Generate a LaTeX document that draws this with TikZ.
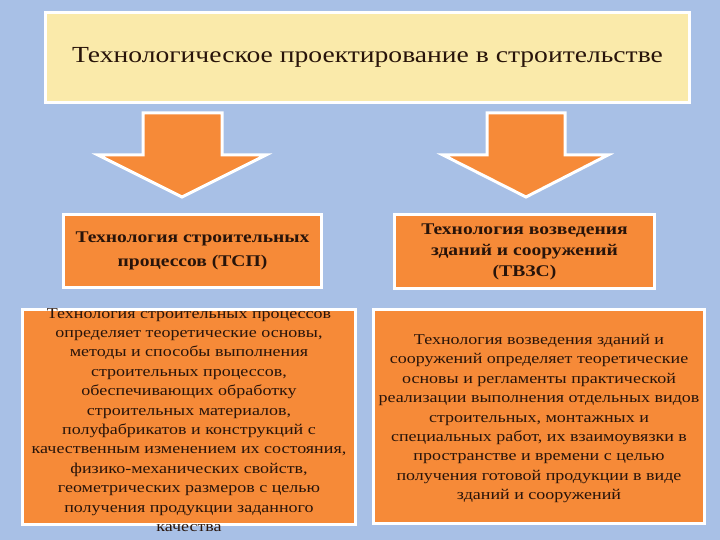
\documentclass[tikz,border=0pt]{standalone}
\usepackage{fontspec}
\setmainfont{Liberation Serif}[FakeStretch=1.2]
\definecolor{bgblue}{RGB}{168,192,230}
\definecolor{boxorange}{RGB}{246,138,56}
\definecolor{boxyellow}{RGB}{250,234,170}
\definecolor{txt}{RGB}{40,20,10}
\tikzset{
  panel/.style={draw=white, line width=3pt, anchor=north west, inner sep=0pt},
  bigarrow/.style={fill=boxorange, draw=white, line width=3pt, line join=miter},
  titletext/.style={text=txt, align=center, font=\fontsize{16.3}{21}\selectfont\bfseries},
  desctext/.style={text=txt, align=center, font=\fontsize{15}{19.4}\selectfont},
}
\begin{document}
\begin{tikzpicture}[x=1pt,y=-1pt]
\fill[bgblue] (0,0) rectangle (720,540);
\useasboundingbox (0,0) rectangle (720,540);

% top box
\node[panel, fill=boxyellow, minimum width=644pt, minimum height=90pt] (top) at (44,11) {};
\node[text=txt, font=\fontsize{23}{26}\selectfont] (toptext) at (top.center) {Технологическое проектирование в строительстве};

% arrows
\draw[bigarrow] (143,113) -- (222,113) -- (222,155) -- (266,155) -- (182,197) -- (98,155) -- (143,155) -- cycle;
\draw[bigarrow] (487,113) -- (565,113) -- (565,155) -- (608,155) -- (526,197) -- (443,155) -- (487,155) -- cycle;

% left title
\node[panel, fill=boxorange, minimum width=258pt, minimum height=73pt] (tsp) at (62,213) {};
\node[titletext, font=\fontsize{16.3}{24}\selectfont\bfseries] (tsptext) at (tsp.center) {Технология строительных\\процессов (ТСП)};

% right title
\node[panel, fill=boxorange, minimum width=260pt, minimum height=74pt] (tvzs) at (393,213) {};
\node[titletext] (tvzstext) at (tvzs.center) {Технология возведения\\зданий и сооружений\\(ТВЗС)};

% left description
\node[panel, fill=boxorange, minimum width=333pt, minimum height=215pt] (ld) at (21,308) {};
\node[desctext] (ldtext) at ([yshift=-3pt]ld.center) {Технология строительных процессов\\определяет теоретические основы,\\методы и способы выполнения\\строительных процессов,\\обеспечивающих  обработку\\строительных материалов,\\полуфабрикатов и конструкций с\\качественным изменением их состояния,\\физико-механических свойств,\\геометрических размеров с целью\\получения продукции заданного\\качества};

% right description
\node[panel, fill=boxorange, minimum width=331pt, minimum height=214pt] (rd) at (372,308) {};
\node[desctext] (rdtext) at ([yshift=-2pt]rd.center) {Технология возведения зданий и\\сооружений определяет теоретические\\основы и регламенты практической\\реализации выполнения отдельных видов\\строительных, монтажных и\\специальных работ, их взаимоувязки в\\пространстве и времени с целью\\получения готовой продукции в виде\\зданий и сооружений};
\end{tikzpicture}
\end{document}
